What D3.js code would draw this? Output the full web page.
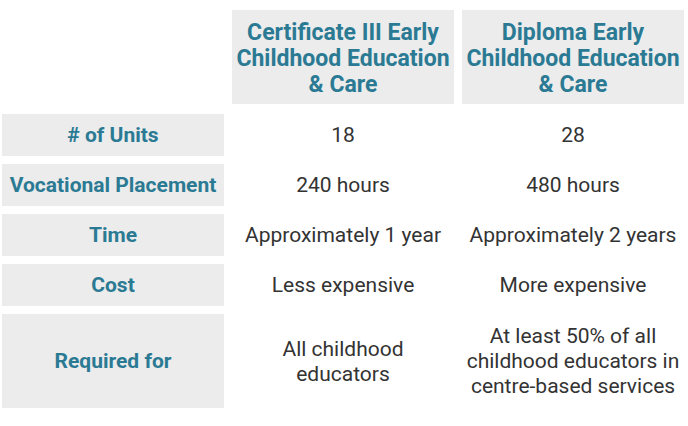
<!DOCTYPE html><html><head><meta charset="utf-8">
<script src="https://cdn.jsdelivr.net/npm/d3@7"></script>
<style>body{margin:0;background:#fff}</style></head><body><svg id="c" width="688" height="426"></svg>
<script>
const columns = ["Certificate III Early|Childhood Education|& Care", "Diploma Early|Childhood Education|& Care"];
const rowLabels = ["# of Units", "Vocational Placement", "Time", "Cost", "Required for"];
const certValues = ["18", "240 hours", "Approximately 1 year", "Less expensive", "All childhood|educators"];
const diplomaValues = ["28", "480 hours", "Approximately 2 years", "More expensive", "At least 50% of all|childhood educators in|centre-based services"];

const svg = d3.select("#c");
const font = "'Liberation Sans Narrow','Roboto',sans-serif";
const x = d3.scaleOrdinal().domain(["label","c0","c1"]).range([2,232,462]);
const colW = 222;
const rowTops = [114,164,214,264,314];
const rowH = [42,42,42,42,94];
const teal = "#2b7a94", bg = "#ececec", txt = "#333";

function lines(g, str, cx, cy, size, weight, color, lh) {
  const parts = str.split("|");
  const t = g.append("text").attr("x", cx).attr("text-anchor","middle")
    .attr("font-family", font).attr("font-size", size).attr("font-weight", weight).attr("fill", color);
  parts.forEach((p,i)=>t.append("tspan").attr("x",cx)
    .attr("y", cy + (i-(parts.length-1)/2)*lh + size*0.35).text(p));
}
// header
columns.forEach((c,i)=>{
  const x0 = x("c"+i);
  svg.append("rect").attr("x",x0).attr("y",10).attr("width",colW).attr("height",94).attr("fill",bg);
  lines(svg, c, x0+colW/2, 58, 23, "bold", teal, 26);
});
rowLabels.forEach((r,i)=>{
  const y0 = rowTops[i], h = rowH[i];
  svg.append("rect").attr("x",x("label")).attr("y",y0).attr("width",colW).attr("height",h).attr("fill",bg);
  lines(svg, r, x("label")+colW/2, y0+h/2, 21, "bold", teal, 25);
  lines(svg, certValues[i], x("c0")+colW/2, y0+h/2, 21, "normal", txt, 25);
  lines(svg, diplomaValues[i], x("c1")+colW/2, y0+h/2, 21, "normal", txt, 25);
});
</script></body></html>
